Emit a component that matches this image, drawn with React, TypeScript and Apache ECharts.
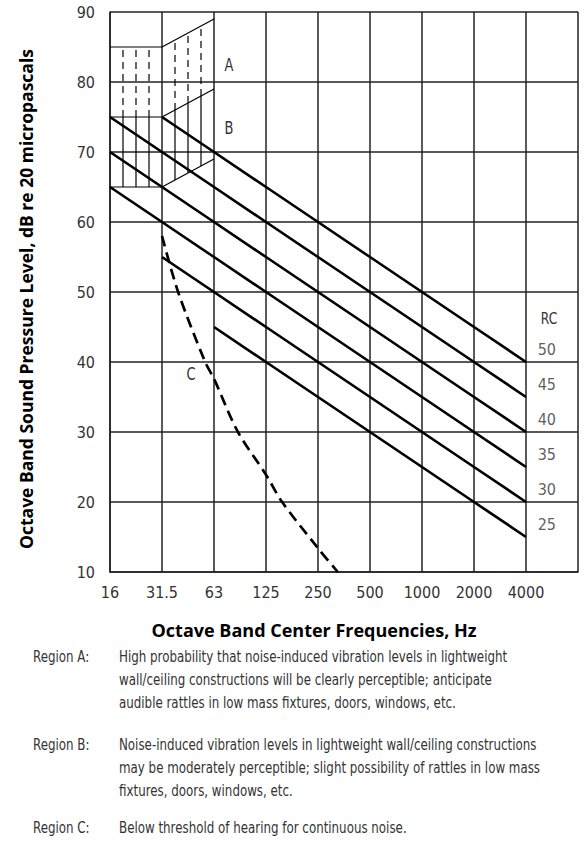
import React, { useEffect, useRef } from "react";
import * as echarts from "echarts";

// Octave band centre frequencies (x axis, one column per octave)
const freqLabels = ["16", "31.5", "63", "125", "250", "500", "1000", "2000", "4000", ""];
const yTicks = [10, 20, 30, 40, 50, 60, 70, 80, 90];

// RC curves (dB at each octave band index 0..8, null = not drawn)
const rcLevels = [50, 45, 40, 35, 30, 25];
const rc50 = [null, 75, 70, 65, 60, 55, 50, 45, 40];
const rc45 = [75, 70, 65, 60, 55, 50, 45, 40, 35];
const rc40 = [70, 65, 60, 55, 50, 45, 40, 35, 30];
const rc35 = [65, 60, 55, 50, 45, 40, 35, 30, 25];
const rc30 = [null, 55, 50, 45, 40, 35, 30, 25, 20];
const rc25 = [null, null, 45, 40, 35, 30, 25, 20, 15];
const rcCurves = [rc50, rc45, rc40, rc35, rc30, rc25];

// Region boundaries at band indices 0, 1, 2 (16, 31.5, 63 Hz)
const regionATop = [85, 85, 89];
const regionABBoundary = [75, 75, 79];
const regionBBottom = [65, 65, 69];
const hatchX = [0.25, 0.5, 0.75, 1.25, 1.5, 1.75];

// Curve C: threshold of hearing (band index, dB)
const curveC: [number, number][] = [
  [1, 58],
  [1.31, 50],
  [1.83, 40],
  [2, 37.6],
  [2.46, 30],
  [3, 23.9],
  [3.31, 20],
  [4, 13.4],
  [4.38, 10],
];

const notes = [
  {
    label: "Region A:",
    lines: [
      "High probability that noise-induced vibration levels in lightweight",
      "wall/ceiling constructions will be clearly perceptible; anticipate",
      "audible rattles in low mass fixtures, doors, windows, etc.",
    ],
  },
  {
    label: "Region B:",
    lines: [
      "Noise-induced vibration levels in lightweight wall/ceiling constructions",
      "may be moderately perceptible; slight possibility of rattles in low mass",
      "fixtures, doors, windows, etc.",
    ],
  },
  {
    label: "Region C:",
    lines: ["Below threshold of hearing for continuous noise."],
  },
];

const COND = '"DejaVu Sans Condensed", "DejaVu Sans", sans-serif';
const BOLD = '"Open Sans", "Noto Sans", sans-serif';
const TEXT = "#333";
const GRID = "#222";

function interp(arr: number[], x: number) {
  const i = Math.floor(x);
  const f = x - i;
  return arr[i] + (arr[i + 1] - arr[i]) * f;
}

function condText(text: string, x: number, y: number, size: number, align: string, squeeze: number) {
  return {
    type: "text",
    x,
    y,
    scaleX: squeeze,
    style: { text, fontFamily: COND, fontSize: size, fill: TEXT, align, verticalAlign: "middle" },
  };
}

export default function App() {
  const ref = useRef<HTMLDivElement>(null);

  useEffect(() => {
    if (!ref.current) return;
    const chart = echarts.init(ref.current, null, { renderer: "svg" });

    const series: any[] = [];

    rcCurves.forEach((c, k) => {
      series.push({
        type: "line",
        name: "RC " + rcLevels[k],
        data: c.map((v, i) => (v == null ? null : [i, v])).filter((d) => d),
        symbol: "none",
        lineStyle: { color: "#000", width: 2.7 },
        z: 5,
      });
    });

    [regionATop, regionABBoundary, regionBBottom].forEach((b) => {
      series.push({
        type: "line",
        data: b.map((v, i) => [i, v]),
        symbol: "none",
        lineStyle: { color: "#000", width: 1.2 },
        z: 4,
      });
    });

    hatchX.forEach((x) => {
      series.push({
        type: "line",
        data: [
          [x, interp(regionABBoundary, x)],
          [x, interp(regionATop, x)],
        ],
        symbol: "none",
        lineStyle: { color: "#000", width: 1.2, type: [7, 5] },
        z: 4,
      });
      series.push({
        type: "line",
        data: [
          [x, interp(regionBBottom, x)],
          [x, interp(regionABBoundary, x)],
        ],
        symbol: "none",
        lineStyle: { color: "#000", width: 1.2 },
        z: 4,
      });
    });

    series.push({
      type: "line",
      data: curveC,
      smooth: 0.3,
      symbol: "none",
      lineStyle: { color: "#000", width: 2.7, type: [11, 6] },
      z: 5,
    });

    // RC labels near line ends
    series.push({
      type: "scatter",
      data: rcLevels.map((r, k) => ({ value: [8.4, rcCurves[k][8] as number], name: String(r) })),
      symbolSize: 0,
      label: {
        show: true,
        position: "inside",
        offset: [0, -13],
        formatter: (p: any) => p.name,
        fontFamily: COND,
        fontSize: 16,
        color: TEXT,
      },
      z: 6,
    });

    const graphic: any[] = [
      condText("A", 229, 65, 17, "center", 0.85),
      condText("B", 229, 128, 17, "center", 0.85),
      condText("C", 191, 374, 17, "center", 0.85),
      condText("RC", 549, 318, 16, "center", 0.85),
      {
        type: "text",
        x: 314,
        y: 630,
        style: {
          text: "Octave Band Center Frequencies, Hz",
          fontFamily: BOLD,
          fontWeight: "bold",
          fontSize: 18,
          fill: "#000",
          align: "center",
          verticalAlign: "middle",
        },
      },
      {
        type: "text",
        x: 26,
        y: 299,
        rotation: Math.PI / 2,
        style: {
          text: "Octave Band Sound Pressure Level, dB re 20 micropascals",
          fontFamily: BOLD,
          fontWeight: "bold",
          fontSize: 17.5,
          fill: "#000",
          align: "center",
          verticalAlign: "middle",
        },
      },
    ];

    const noteTops = [657, 745, 828];
    notes.forEach((n, k) => {
      graphic.push(condText(n.label, 33, noteTops[k], 15, "left", 0.88));
      n.lines.forEach((l, j) => {
        graphic.push(condText(l, 119, noteTops[k] + j * 23, 15, "left", 0.88));
      });
    });

    chart.setOption({
      animation: false,
      grid: { left: 110, right: 6, top: 12, bottom: 291, show: false },
      xAxis: {
        type: "value",
        min: 0,
        max: 9,
        interval: 1,
        axisLine: { show: true, lineStyle: { color: GRID, width: 1.5 } },
        axisTick: { show: false },
        splitLine: { show: true, lineStyle: { color: GRID, width: 1.5 } },
        axisLabel: {
          formatter: (v: number) => freqLabels[Math.round(v)] ?? "",
          fontFamily: COND,
          fontSize: 16,
          color: TEXT,
          margin: 12,
          showMaxLabel: true,
          showMinLabel: true,
        },
      },
      yAxis: {
        type: "value",
        min: yTicks[0],
        max: yTicks[yTicks.length - 1],
        interval: 10,
        axisLine: { show: true, lineStyle: { color: GRID, width: 1.5 } },
        axisTick: { show: false },
        splitLine: { show: true, lineStyle: { color: GRID, width: 1.5 } },
        axisLabel: { fontFamily: COND, fontSize: 16, color: TEXT, margin: 15 },
      },
      graphic,
      series,
    });

    return () => chart.dispose();
  }, []);

  return <div ref={ref} style={{ width: 584, height: 863, position: "absolute", left: 0, top: 0, background: "#fff" }} />;
}
